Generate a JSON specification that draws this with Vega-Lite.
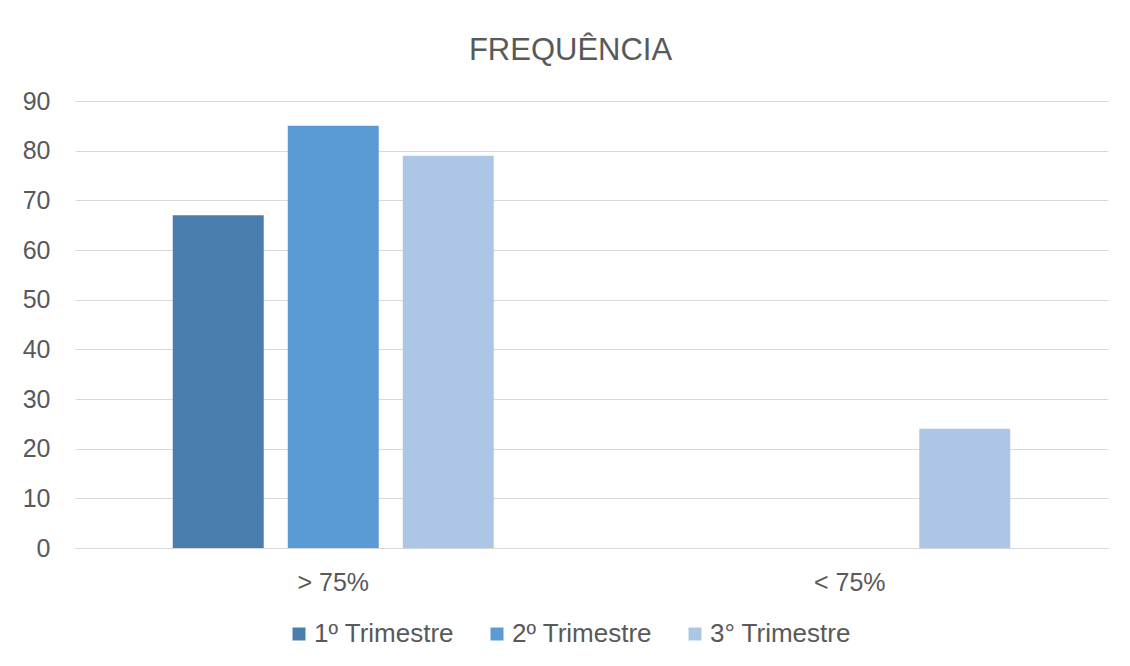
{
  "$schema": "https://vega.github.io/schema/vega-lite/v6.json",
  "width": 1033,
  "height": 447,
  "autosize": {"type": "none"},
  "padding": {"left": 75, "top": 101, "right": 22, "bottom": 118},
  "background": "white",
  "title": {
    "text": "FREQUÊNCIA",
    "anchor": "middle",
    "dx": -21,
    "dy": 42,
    "offset": 40,
    "baseline": "alphabetic",
    "font": "Liberation Sans",
    "fontSize": 31,
    "fontWeight": "normal",
    "color": "#595959"
  },
  "data": {
    "values": [
      {"faixa": "> 75%", "trimestre": "1º Trimestre", "valor": 67},
      {"faixa": "> 75%", "trimestre": "2º Trimestre", "valor": 85},
      {"faixa": "> 75%", "trimestre": "3° Trimestre", "valor": 79},
      {"faixa": "< 75%", "trimestre": "1º Trimestre", "valor": 0},
      {"faixa": "< 75%", "trimestre": "2º Trimestre", "valor": 0},
      {"faixa": "< 75%", "trimestre": "3° Trimestre", "valor": 24}
    ]
  },
  "mark": {"type": "bar"},
  "encoding": {
    "x": {
      "field": "faixa",
      "type": "nominal",
      "sort": ["> 75%", "< 75%"],
      "scale": {"paddingInner": 0, "paddingOuter": 0},
      "axis": {
        "title": null,
        "labelAngle": 0,
        "ticks": false,
        "domain": true,
        "domainColor": "#d9d9d9",
        "domainWidth": 1,
        "labelPadding": 22,
        "labelFont": "Liberation Sans",
        "labelFontSize": 25,
        "labelColor": "#595959"
      }
    },
    "xOffset": {
      "field": "trimestre",
      "type": "nominal",
      "sort": ["1º Trimestre", "2º Trimestre", "3° Trimestre"],
      "scale": {"paddingInner": 0.209, "paddingOuter": 0.85}
    },
    "y": {
      "field": "valor",
      "type": "quantitative",
      "scale": {"domain": [0, 90], "nice": false},
      "axis": {
        "title": null,
        "values": [0, 10, 20, 30, 40, 50, 60, 70, 80, 90],
        "domain": false,
        "ticks": false,
        "grid": true,
        "gridColor": "#d9d9d9",
        "gridWidth": 1,
        "labelPadding": 25,
        "labelFont": "Liberation Sans",
        "labelFontSize": 25,
        "labelColor": "#595959"
      }
    },
    "color": {
      "field": "trimestre",
      "type": "nominal",
      "sort": ["1º Trimestre", "2º Trimestre", "3° Trimestre"],
      "scale": {
        "domain": ["1º Trimestre", "2º Trimestre", "3° Trimestre"],
        "range": ["#4a7eaf", "#5b9bd5", "#adc6e6"]
      },
      "legend": {
        "title": null,
        "orient": "none",
        "direction": "horizontal",
        "legendX": 211,
        "legendY": 520,
        "symbolType": "square",
        "symbolSize": 169,
        "symbolStrokeWidth": 0,
        "labelOffset": 2,
        "columnPadding": 30,
        "labelFont": "Liberation Sans",
        "labelFontSize": 26,
        "labelColor": "#595959"
      }
    }
  },
  "config": {
    "view": {"stroke": null}
  }
}
